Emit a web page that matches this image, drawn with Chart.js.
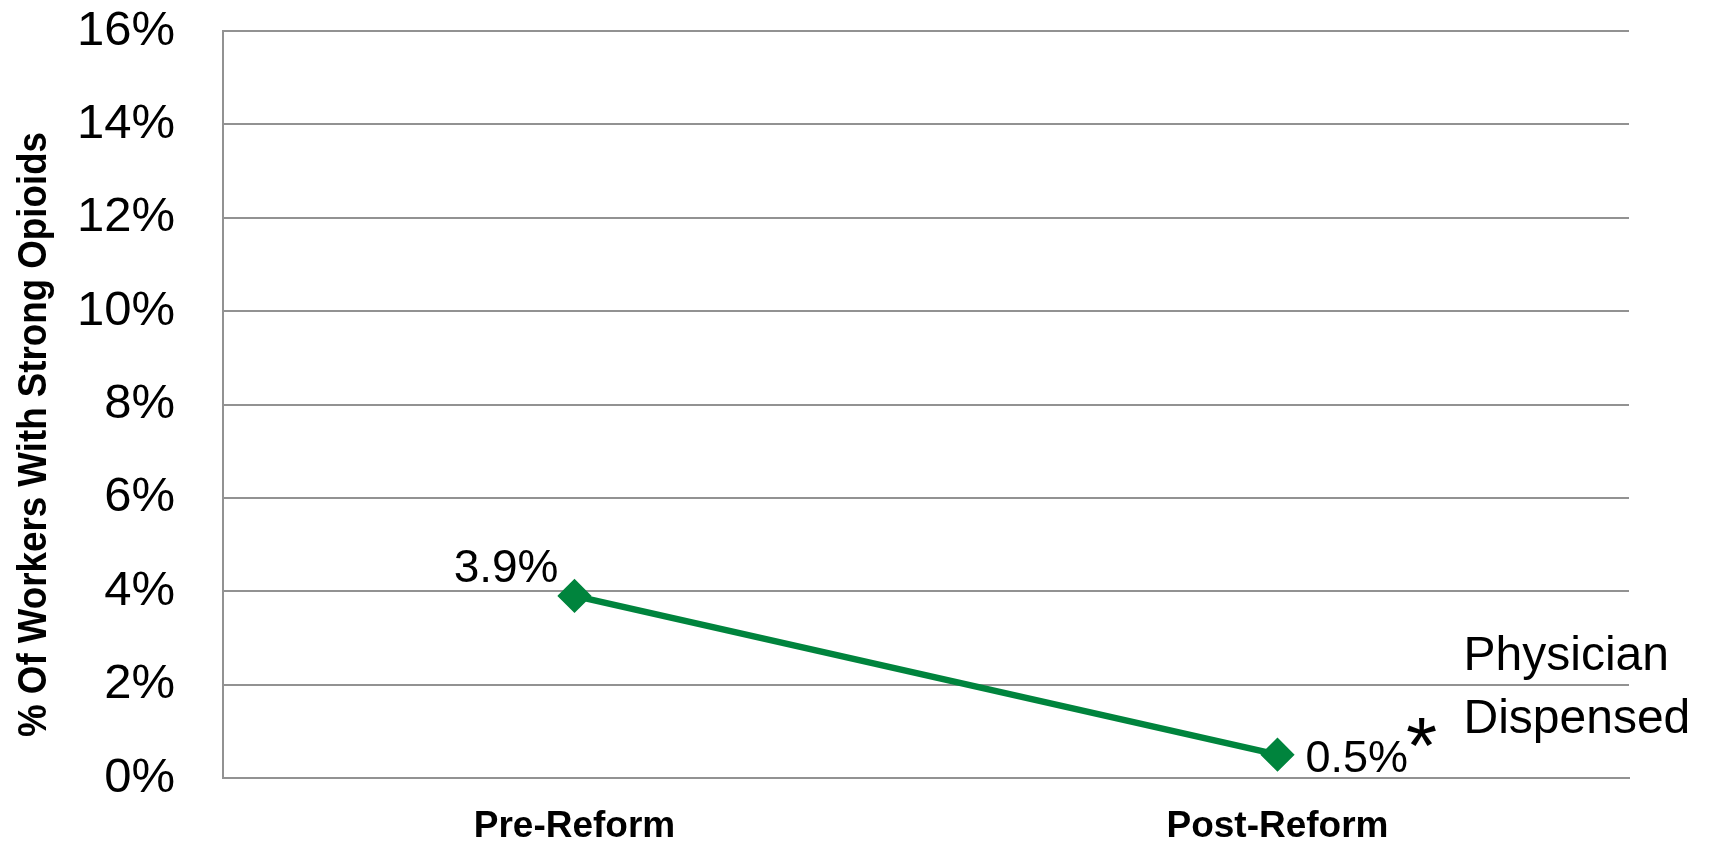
<!DOCTYPE html>
<html>
<head>
<meta charset="utf-8">
<script src="https://cdn.jsdelivr.net/npm/chart.js@4.4.1/dist/chart.umd.min.js"></script>
<style>
  body { margin: 0; background: #fff; }
  canvas { display: block; }
</style>
</head>
<body>
<canvas id="chart" width="1716" height="848"></canvas>
<script>
const periods = ['Pre-Reform', 'Post-Reform'];
const opioidShare = [3.9, 0.5];
const seriesName = ['Physician', 'Dispensed'];
const yTitle = '% Of Workers With Strong Opioids';
const green = '#00843d';
const gridGray = '#929292';
const fontFam = '"Liberation Sans", Arial, sans-serif';

// labels next to the points + series name + rotated axis title
const labelPlugin = {
    id: 'labels',
    afterDatasetsDraw(chart) {
        const ctx = chart.ctx;
        const pts = chart.getDatasetMeta(0).data;
        const area = chart.chartArea;
        ctx.save();
        ctx.fillStyle = '#000';
        ctx.font = '46px ' + fontFam;
        ctx.textBaseline = 'alphabetic';

        // first value: above-left of the point
        ctx.textAlign = 'right';
        ctx.fillText(opioidShare[0] + '%', pts[0].x - 16, pts[0].y - 14);

        // second value: right of the point, with a star
        ctx.textAlign = 'left';
        ctx.font = '45px ' + fontFam;
        const t = opioidShare[1] + '%';
        ctx.fillText(t, pts[1].x + 28, pts[1].y + 17);
        const w = ctx.measureText(t).width;
        ctx.font = '80px ' + fontFam;
        ctx.fillText('*', pts[1].x + 26 + w, pts[1].y + 18);

        // series name at the right
        ctx.font = '48px ' + fontFam;
        ctx.fillText(seriesName[0], pts[1].x + 186, pts[1].y - 85);
        ctx.fillText(seriesName[1], pts[1].x + 186, pts[1].y - 22);

        // y axis title (condensed look)
        ctx.font = 'bold 40px ' + fontFam;
        const tw = ctx.measureText(yTitle).width;
        ctx.translate(46, (area.top + area.bottom) / 2 + 30);
        ctx.rotate(-Math.PI / 2);
        ctx.scale(605 / tw, 1);
        ctx.textAlign = 'center';
        ctx.textBaseline = 'alphabetic';
        ctx.fillText(yTitle, 0, 0);
        ctx.restore();
    }
};

new Chart(document.getElementById('chart'), {
    type: 'line',
    data: {
        labels: periods,
        datasets: [{
            data: opioidShare,
            borderColor: green,
            backgroundColor: green,
            borderWidth: 6.5,
            pointStyle: 'rectRot',
            pointRadius: 15,
            pointBorderWidth: 3,
            pointBorderColor: green,
            pointBackgroundColor: green,
            fill: false,
            tension: 0
        }]
    },
    options: {
        responsive: false,
        animation: false,
        layout: { padding: { left: 0, right: 87, top: 31, bottom: 0 } },
        plugins: {
            legend: { display: false },
            tooltip: { enabled: false }
        },
        elements: { point: { borderJoinStyle: 'round' } },
        scales: {
            x: {
                offset: true,
                grid: { display: false, drawTicks: false },
                border: { display: true, color: gridGray, width: 2 },
                ticks: {
                    color: '#000',
                    padding: 27,
                    font: { family: fontFam, size: 37, weight: 'bold' }
                },
                afterFit(s) { s.height = 70; }
            },
            y: {
                min: 0,
                max: 16,
                ticks: {
                    stepSize: 2,
                    padding: 0,
                    color: '#000',
                    font: { family: fontFam, size: 49 },
                    callback: v => v + '%'
                },
                grid: { color: gridGray, lineWidth: 2, drawTicks: true, tickLength: 48, tickColor: 'rgba(0,0,0,0)' },
                border: { display: true, color: gridGray, width: 2 },
                afterFit(s) { s.width = 223; }
            }
        }
    },
    plugins: [labelPlugin]
});
</script>
</body>
</html>
